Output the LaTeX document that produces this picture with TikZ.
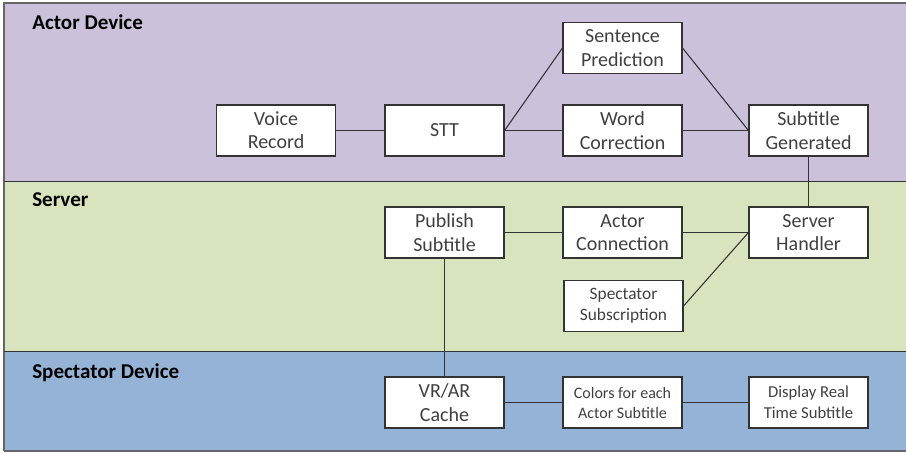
\documentclass[tikz,border=0pt]{standalone}
\usepackage{fontspec}
\setmainfont{Carlito}
\usepackage{xcolor}
\definecolor{actorbg}{HTML}{CCC1DA}
\definecolor{serverbg}{HTML}{D7E4BD}
\definecolor{specbg}{HTML}{95B3D7}
\definecolor{boxtext}{HTML}{404040}

\begin{document}
\begin{tikzpicture}[x=0.75pt, y=-0.75pt]
\useasboundingbox (0,0) rectangle (906,453);
% bands
\fill[actorbg] (4,3) rectangle (906,181);
\fill[serverbg] (4,181) rectangle (906,351);
\fill[specbg] (4,351) rectangle (906,451);
\draw[black!60, line width=0.9pt] (4,451) -- (4,3) -- (906,3);
\draw[black!60, line width=0.9pt] (4,451) -- (906,451);
\draw[black!80, line width=0.6pt] (4,181) -- (906,181);
\draw[black!80, line width=0.6pt] (4,351) -- (906,351);
\path (32,22) node[anchor=west, inner sep=0pt, font=\fontsize{15.8}{18}\selectfont\bfseries] (actor) {Actor Device};
\path (32,200) node[anchor=west, inner sep=0pt, font=\fontsize{15.8}{18}\selectfont\bfseries] (server) {Server};
\path (32,373) node[anchor=west, inner sep=0pt, font=\fontsize{15.8}{18}\selectfont\bfseries] (spec) {Spectator Device};
\tikzstyle{every node}=[rectangle, draw=black!80, fill=white, text=boxtext,
                        align=center, line width=0.8pt, inner sep=2pt,
                        minimum width=89.25pt, minimum height=38.25pt,
                        font=\fontsize{15}{17.5}\selectfont]
\node (VR) at (276,130.5) {Voice\\Record};
\node (STT) at (444.5,130.5) {STT};
\node (SP) at (622.5,48) {Sentence\\Prediction};
\node (WC) at (622.5,130.5) {Word\\Correction};
\node (SG) at (808.5,130.5) {Subtitle\\Generated};
\node (PS) at (444.5,232.5) {Publish\\Subtitle};
\node (AC) at (622.5,232.5) {Actor\\Connection};
\node (SH) at (808.5,232.5) {Server\\Handler};
\node[font=\fontsize{13}{16}\selectfont] (SS) at (623.5,306) {Spectator\\Subscription};
\node (VC) at (444.5,402.5) {VR/AR\\Cache};
\node[font=\fontsize{12}{15}\selectfont] (CS) at (622.5,402.5) {Colors for each\\Actor Subtitle};
\node[font=\fontsize{12.5}{15.5}\selectfont] (DS) at (808.5,402.5) {Display Real\\Time Subtitle};
\foreach \i/\j in {VR.east/STT.west, STT.east/SP.west, STT.east/WC.west,
                   SP.east/SG.west, WC.east/SG.west, SG.south/SH.north,
                   PS.east/AC.west, AC.east/SH.west, SS.east/SH.west,
                   PS.south/VC.north, VC.east/CS.west, CS.east/DS.west}
  {\draw[black!80, line width=0.8pt] (\i) -- (\j);}
\end{tikzpicture}
\end{document}
